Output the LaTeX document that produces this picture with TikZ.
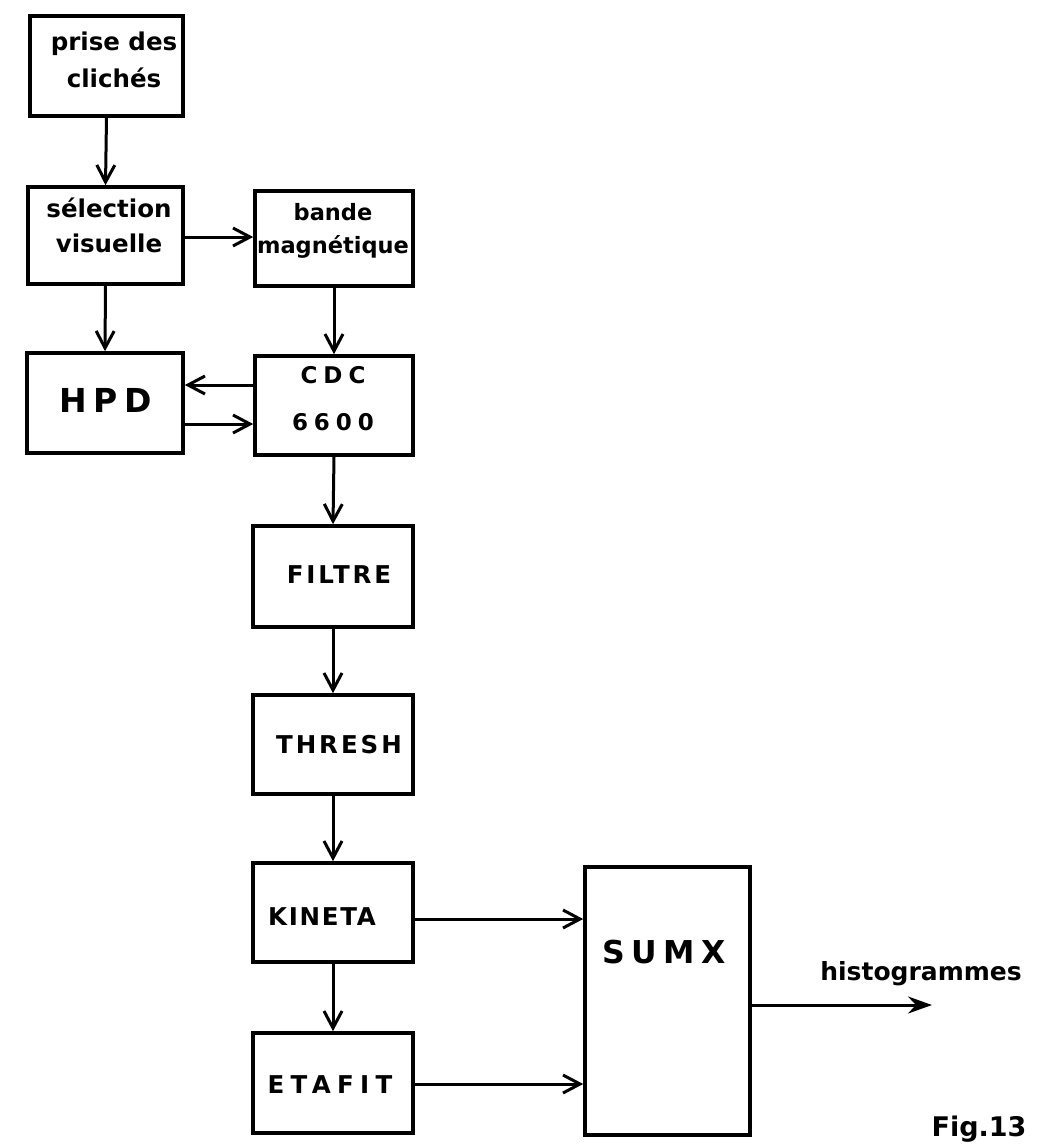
\documentclass[tikz,border=0pt]{standalone}
\usepackage{fontspec}
\setmainfont{DejaVu Sans}
\usetikzlibrary{arrows.meta}
\newfontfamily\spA[LetterSpace=12]{DejaVu Sans}
\newfontfamily\spB[LetterSpace=26]{DejaVu Sans}
\newfontfamily\spC[LetterSpace=20]{DejaVu Sans}
\newfontfamily\spD[LetterSpace=7]{DejaVu Sans}
\begin{document}
\begin{tikzpicture}[x=1pt,y=-1pt,
  box/.style={draw,line width=3.6pt,rectangle,inner sep=0pt},
  txt/.style={anchor=base,inner sep=0pt,align=center},
  lo/.style={font=\bfseries\fontsize{24.5}{37}\selectfont},
  flow/.style={line width=3pt,-{Straight Barb[length=17pt,width=18pt,line width=3pt]}},
  outflow/.style={line width=3pt,-{Stealth[length=24pt,width=17pt,inset=8pt]}}]
\useasboundingbox (0,0) rectangle (1046,1144);
% boxes
\node[box,minimum width=153pt,minimum height=100pt] (prise) at (106.5,66) {};
\node[box,minimum width=155pt,minimum height=97pt] (sel) at (105.5,235.5) {};
\node[box,minimum width=158pt,minimum height=95pt] (bande) at (334,238.5) {};
\node[box,minimum width=156pt,minimum height=100pt] (hpd) at (105,403) {};
\node[box,minimum width=158pt,minimum height=99pt] (cdc) at (334,405.5) {};
\node[box,minimum width=160pt,minimum height=101pt] (filtre) at (333,576.5) {};
\node[box,minimum width=160pt,minimum height=99pt] (thresh) at (333,744.5) {};
\node[box,minimum width=160pt,minimum height=99pt] (kineta) at (333,912.5) {};
\node[box,minimum width=160pt,minimum height=100pt] (etafit) at (333,1083) {};
\node[box,minimum width=165pt,minimum height=268pt] (sumx) at (667.5,1001) {};
% texts (anchor = baseline of the last line)
\node[txt,lo] (priset) at (114,87) {prise des\\clichés};
\node[txt,font=\bfseries\fontsize{24.5}{35}\selectfont] (selt) at (109,252) {sélection\\visuelle};
\node[txt,font=\bfseries\fontsize{22.5}{33}\selectfont] (bandet) at (333,253) {bande\\magnétique};
\node[txt,font=\spC\bfseries\fontsize{33}{40}\selectfont] (hpdt) at (106,412) {HPD};
\node[txt,font=\spB\bfseries\fontsize{23}{47}\selectfont] (cdct) at (333,430) {CDC\\6600};
\node[txt,font=\spA\bfseries\fontsize{24.5}{30}\selectfont] (filtret) at (339,583) {FILTRE};
\node[txt,font=\spA\bfseries\fontsize{24.5}{30}\selectfont] (thresht) at (339,753) {THRESH};
\node[txt,font=\spD\bfseries\fontsize{24.5}{30}\selectfont] (kinetat) at (322,925) {KINETA};
\node[txt,font=\spB\bfseries\fontsize{24.5}{30}\selectfont] (etafitt) at (330,1093) {ETAFIT};
\node[txt,font=\spC\bfseries\fontsize{31.5}{36}\selectfont] (sumxt) at (664,963) {SUMX};
\node[txt,font=\bfseries\fontsize{25}{30}\selectfont] (histt) at (921,980) {histogrammes};
\node[txt,font=\bfseries\fontsize{27}{30}\selectfont] (fig) at (979,1136) {Fig.13};
\coordinate (hist) at (932,1005);
% connectors
\draw[flow] (prise.south) -- (sel.north);
\draw[flow] (sel.south) -- (hpd.north);
\draw[flow] (sel.east |- 0,237) -- (bande.west |- 0,237);
\draw[flow] (bande.south) -- (cdc.north);
\draw[flow] (cdc.west |- 0,385) -- (hpd.east |- 0,385);
\draw[flow] (hpd.east |- 0,424) -- (cdc.west |- 0,424);
\draw[flow] (cdc.south) -- (filtre.north);
\draw[flow] (filtre.south) -- (thresh.north);
\draw[flow] (thresh.south) -- (kineta.north);
\draw[flow] (kineta.south) -- (etafit.north);
\draw[flow] (kineta.east |- 0,919) -- (sumx.west |- 0,919);
\draw[flow] (etafit.east |- 0,1084) -- (sumx.west |- 0,1084);
\draw[outflow] (sumx.east |- hist) -- (hist);
\end{tikzpicture}
\end{document}
